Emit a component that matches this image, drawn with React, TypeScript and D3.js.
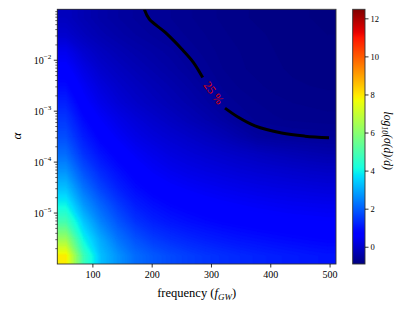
import React, { useEffect, useRef } from 'react';
import * as d3 from 'd3';

// grid cell centres (frequency in f_GW, alpha as log10) and log10(sigma(d)/d)
const FREQ_CENTERS = [54.7, 84.1, 113.4, 142.8, 172.2, 201.6, 231.0, 260.3, 289.7, 319.1, 348.4, 377.8, 407.2, 436.6, 465.9, 495.3];
const LOG_ALPHA_CENTERS = [-1.167, -1.5, -1.833, -2.167, -2.5, -2.833, -3.167, -3.5, -3.833, -4.167, -4.5, -4.833, -5.167, -5.5, -5.833];
const LOG_SIGMA = [
  [-0.15, -0.3, -0.42, -0.5, -0.56, -0.61, -0.65, -0.69, -0.73, -0.76, -0.79, -0.81, -0.83, -0.84, -0.85, -0.86],
  [0.02, -0.18, -0.32, -0.42, -0.5, -0.56, -0.61, -0.66, -0.7, -0.74, -0.77, -0.79, -0.81, -0.83, -0.84, -0.85],
  [0.4, 0.05, -0.15, -0.28, -0.38, -0.46, -0.53, -0.61, -0.67, -0.72, -0.75, -0.78, -0.8, -0.82, -0.83, -0.84],
  [0.65, 0.28, 0.0, -0.15, -0.27, -0.37, -0.46, -0.55, -0.63, -0.7, -0.74, -0.77, -0.79, -0.81, -0.82, -0.83],
  [0.9, 0.48, 0.18, -0.02, -0.15, -0.26, -0.36, -0.46, -0.57, -0.66, -0.71, -0.74, -0.77, -0.79, -0.8, -0.81],
  [1.2, 0.65, 0.34, 0.12, -0.04, -0.16, -0.27, -0.37, -0.48, -0.61, -0.66, -0.7, -0.73, -0.75, -0.76, -0.77],
  [1.5, 0.9, 0.55, 0.32, 0.14, 0.0, -0.12, -0.24, -0.35, -0.47, -0.61, -0.66, -0.69, -0.71, -0.72, -0.73],
  [1.8, 1.15, 0.75, 0.5, 0.3, 0.16, 0.05, -0.05, -0.15, -0.26, -0.39, -0.53, -0.57, -0.59, -0.6, -0.605],
  [2.2, 1.45, 1.0, 0.72, 0.5, 0.35, 0.22, 0.13, 0.05, -0.02, -0.09, -0.16, -0.22, -0.27, -0.32, -0.36],
  [2.7, 1.85, 1.3, 0.95, 0.7, 0.52, 0.4, 0.31, 0.24, 0.18, 0.12, 0.07, 0.03, -0.01, -0.05, -0.08],
  [3.3, 2.3, 1.65, 1.2, 0.9, 0.72, 0.6, 0.52, 0.45, 0.39, 0.34, 0.29, 0.25, 0.22, 0.19, 0.16],
  [4.0, 2.8, 2.1, 1.55, 1.15, 0.95, 0.82, 0.73, 0.66, 0.6, 0.55, 0.51, 0.47, 0.44, 0.42, 0.4],
  [4.9, 3.4, 2.5, 1.9, 1.45, 1.2, 1.05, 0.95, 0.87, 0.8, 0.75, 0.7, 0.67, 0.64, 0.62, 0.6],
  [6.3, 4.0, 3.0, 2.3, 1.85, 1.55, 1.38, 1.25, 1.15, 1.07, 1.0, 0.95, 0.9, 0.86, 0.82, 0.79],
  [7.9, 4.8, 3.3, 2.7, 2.2, 1.95, 1.75, 1.6, 1.48, 1.38, 1.3, 1.23, 1.17, 1.12, 1.07, 1.03],
];

// the 25 % contour
const CONTOUR_A_FREQ = [186.7, 195, 221.6, 249.8, 269.4, 285.2];
const CONTOUR_A_LOGALPHA = [-1.0, -1.19, -1.45, -1.78, -2.04, -2.34];
const CONTOUR_B_FREQ = [322.8, 345.3, 373.4, 418.4, 457.7, 498.2];
const CONTOUR_B_LOGALPHA = [-2.94, -3.12, -3.29, -3.43, -3.49, -3.52];

const X_TICKS = [100, 200, 300, 400, 500];
const Y_TICK_EXP = [-5, -4, -3, -2];
const CBAR_TICKS = [0, 2, 4, 6, 8, 10, 12];
const CBAR_DOMAIN = [-0.88, 12.5];

const FONT = "'Liberation Serif', 'DejaVu Serif', serif";

// matplotlib jet
const jetR = d3.scaleLinear().domain([0, 0.35, 0.66, 0.89, 1]).range([0, 0, 1, 1, 0.5]).clamp(true);
const jetG = d3.scaleLinear().domain([0, 0.125, 0.375, 0.64, 0.91, 1]).range([0, 0, 1, 1, 0, 0]).clamp(true);
const jetB = d3.scaleLinear().domain([0, 0.11, 0.34, 0.65, 1]).range([0.5, 1, 1, 0, 0]).clamp(true);
const jet = (t: number) =>
  `rgb(${Math.round(255 * jetR(t))},${Math.round(255 * jetG(t))},${Math.round(255 * jetB(t))})`;

export default function App() {
  const ref = useRef<SVGSVGElement>(null);

  useEffect(() => {
    if (!ref.current) return;
    const svg = d3.select(ref.current);
    svg.selectAll('*').remove();

    const left = 57.3, top = 9.3, right = 336, bottom = 264;
    const x = d3.scaleLinear().domain([40, 510]).range([left, right]);
    const y = d3.scaleLog().domain([1e-6, 1e-1]).range([bottom, top]);
    const norm = d3.scaleLinear().domain(CBAR_DOMAIN).range([0, 1]);

    const nx = FREQ_CENTERS.length, ny = LOG_ALPHA_CENTERS.length;
    // pad the grid by one cell (edge copy) so that the contour bands reach the corners
    const px = nx + 2, py = ny + 2;
    const values: number[] = [];
    for (let j = 0; j < py; j++) {
      const r = LOG_SIGMA[Math.min(ny - 1, Math.max(0, j - 1))];
      for (let i = 0; i < px; i++) values.push(r[Math.min(nx - 1, Math.max(0, i - 1))]);
    }
    const gx = d3.scaleLinear().domain([1.5, nx + 0.5]).range([FREQ_CENTERS[0], FREQ_CENTERS[nx - 1]]);
    const gy = d3.scaleLinear().domain([1.5, ny + 0.5]).range([LOG_ALPHA_CENTERS[0], LOG_ALPHA_CENTERS[ny - 1]]);

    const defs = svg.append('defs');
    defs.append('clipPath').attr('id', 'plotclip')
      .append('rect').attr('x', left).attr('y', top).attr('width', right - left).attr('height', bottom - top);

    // heatmap as many filled contour bands
    const g = svg.append('g').attr('clip-path', 'url(#plotclip)');
    g.append('rect').attr('x', left).attr('y', top).attr('width', right - left).attr('height', bottom - top)
      .attr('fill', jet(0));

    const step = 0.05;
    const thresholds = d3.range(-0.85, 10, step);
    const bands = d3.contours().size([px, py]).thresholds(thresholds)(values);
    const proj = d3.geoTransform({
      point(cx: number, cy: number) {
        this.stream.point(x(gx(cx)), y(Math.pow(10, gy(cy))));
      },
    });
    const path = d3.geoPath(proj);
    g.selectAll('path.band').data(bands).join('path')
      .attr('class', 'band')
      .attr('d', (d: any) => path(d))
      .attr('fill', (d: any) => jet(norm(d.value + step / 2)))
      .attr('stroke', (d: any) => jet(norm(d.value + step / 2)))
      .attr('stroke-width', 0.3);

    // 25 % contour
    const line = d3.line<[number, number]>()
      .x(d => x(d[0])).y(d => y(Math.pow(10, d[1])))
      .curve(d3.curveCatmullRom);
    const segA = CONTOUR_A_FREQ.map((f, i) => [f, CONTOUR_A_LOGALPHA[i]] as [number, number]);
    const segB = CONTOUR_B_FREQ.map((f, i) => [f, CONTOUR_B_LOGALPHA[i]] as [number, number]);
    [segA, segB].forEach(seg => {
      g.append('path').attr('d', line(seg)).attr('fill', 'none')
        .attr('stroke', '#000').attr('stroke-width', 3);
    });
    const la = segA[segA.length - 1], lb = segB[0];
    const lx = (x(la[0]) + x(lb[0])) / 2, ly = (y(Math.pow(10, la[1])) + y(Math.pow(10, lb[1]))) / 2;
    const ang = Math.atan2(y(Math.pow(10, lb[1])) - y(Math.pow(10, la[1])), x(lb[0]) - x(la[0])) * 180 / Math.PI;
    svg.append('text').attr('transform', `translate(${lx},${ly}) rotate(${ang})`)
      .attr('text-anchor', 'middle').attr('dy', '0.35em')
      .attr('font-family', FONT).attr('font-size', 12).attr('fill', '#e00000')
      .text('25 %');

    // frame
    svg.append('rect').attr('x', left).attr('y', top).attr('width', right - left).attr('height', bottom - top)
      .attr('fill', 'none').attr('stroke', '#333').attr('stroke-width', 0.9);

    // x axis
    const xa = svg.append('g');
    X_TICKS.forEach(t => {
      xa.append('line').attr('x1', x(t)).attr('x2', x(t)).attr('y1', bottom).attr('y2', bottom + 3.5)
        .attr('stroke', '#000').attr('stroke-width', 0.8);
      xa.append('text').attr('x', x(t)).attr('y', bottom + 14).attr('text-anchor', 'middle')
        .attr('font-family', FONT).attr('font-size', 10).text(String(t));
    });
    const xl = svg.append('text').attr('x', (left + right) / 2).attr('y', 297).attr('text-anchor', 'middle')
      .attr('font-family', FONT).attr('font-size', 12.5);
    xl.append('tspan').text('frequency (');
    xl.append('tspan').attr('font-style', 'italic').text('f');
    xl.append('tspan').attr('font-style', 'italic').attr('font-size', 9).attr('dy', 2.5).text('GW');
    xl.append('tspan').attr('dy', -2.5).text(')');

    // y axis
    const ya = svg.append('g');
    d3.range(-6, -1).forEach(e => {
      d3.range(2, 10).forEach(m => {
        const v = m * Math.pow(10, e);
        ya.append('line').attr('x1', left - 2).attr('x2', left).attr('y1', y(v)).attr('y2', y(v))
          .attr('stroke', '#000').attr('stroke-width', 0.6);
      });
    });
    Y_TICK_EXP.forEach(e => {
      const yy = y(Math.pow(10, e));
      ya.append('line').attr('x1', left - 3.5).attr('x2', left).attr('y1', yy).attr('y2', yy)
        .attr('stroke', '#000').attr('stroke-width', 0.8);
      const t = ya.append('text').attr('x', left - 6).attr('y', yy + 3.5).attr('text-anchor', 'end')
        .attr('font-family', FONT).attr('font-size', 10);
      t.append('tspan').text('10');
      t.append('tspan').attr('font-size', 7).attr('dy', -4.5).text(`\u2212${-e}`);
    });
    svg.append('text').attr('transform', `translate(21,136) rotate(-90)`).attr('text-anchor', 'middle')
      .attr('font-family', FONT).attr('font-style', 'italic').attr('font-size', 13).text('\u03b1');

    // colorbar
    const cbx = 352.7, cbw = 12.3;
    const cy = d3.scaleLinear().domain(CBAR_DOMAIN).range([bottom, top]);
    const grad = defs.append('linearGradient').attr('id', 'jetgrad')
      .attr('x1', 0).attr('y1', 1).attr('x2', 0).attr('y2', 0);
    d3.range(0, 1.0001, 0.01).forEach(t => {
      grad.append('stop').attr('offset', t).attr('stop-color', jet(t));
    });
    svg.append('rect').attr('x', cbx).attr('y', top).attr('width', cbw).attr('height', bottom - top)
      .attr('fill', 'url(#jetgrad)').attr('stroke', '#333').attr('stroke-width', 0.9);
    CBAR_TICKS.forEach(t => {
      svg.append('line').attr('x1', cbx + cbw).attr('x2', cbx + cbw + 3.5).attr('y1', cy(t)).attr('y2', cy(t))
        .attr('stroke', '#000').attr('stroke-width', 0.8);
      svg.append('text').attr('x', cbx + cbw + 5.5).attr('y', cy(t) + 3)
        .attr('font-family', FONT).attr('font-size', 8.5).text(String(t));
    });
    const cl = svg.append('text').attr('transform', `translate(384,${(top + bottom) / 2 + 4}) rotate(90)`)
      .attr('text-anchor', 'middle').attr('font-family', FONT).attr('font-style', 'italic').attr('font-size', 11.5);
    cl.append('tspan').text('log');
    cl.append('tspan').attr('font-size', 8).attr('dy', 2.5).text('10');
    cl.append('tspan').attr('dy', -2.5).text('(\u03c3(d)/d)');
  }, []);

  return (
    <svg ref={ref} width={415} height={311}
      style={{ position: 'absolute', left: 0, top: 0, background: '#fff' }} />
  );
}
